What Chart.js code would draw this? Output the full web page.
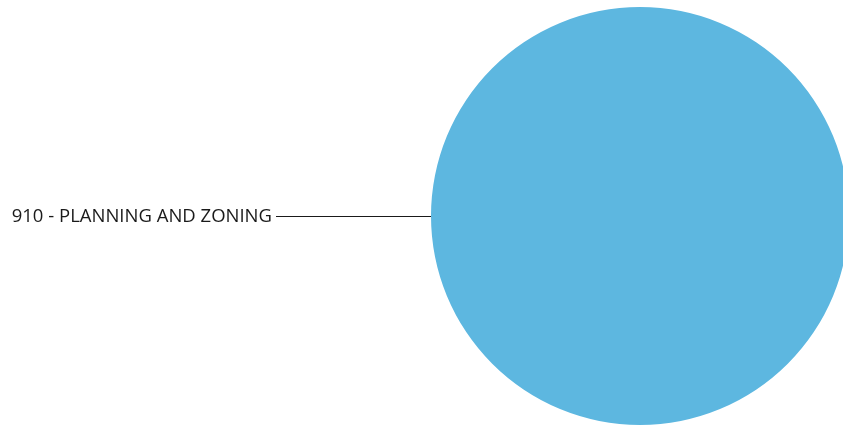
<!DOCTYPE html>
<html>
<head>
<meta charset="utf-8">
<script src="https://cdn.jsdelivr.net/npm/chart.js@4.4.1/dist/chart.umd.min.js"></script>
<style>
  html, body { margin: 0; padding: 0; background: #fff; overflow: hidden; }
  #wrap { position: relative; width: 860px; height: 430px; }
</style>
</head>
<body>
<div id="wrap"><canvas id="pieChart" width="860" height="430"></canvas></div>
<script>
// datos del gráfico
const categories = ["910 - PLANNING AND ZONING"];
const values = [1];
const colors = ["#5DB7E0"];

// etiqueta con línea guía a la izquierda de la porción
const leaderLabels = {
    id: "leaderLabels",
    afterDatasetsDraw(chart) {
        const ctx = chart.ctx;
        const meta = chart.getDatasetMeta(0);
        meta.data.forEach((arc, i) => {
            const x0 = arc.x - arc.outerRadius;
            const y0 = arc.y;
            const xEnd = 276;
            ctx.save();
            ctx.strokeStyle = "#1a1a1a";
            ctx.lineWidth = 1;
            ctx.beginPath();
            ctx.moveTo(x0, Math.round(y0) + 0.5);
            ctx.lineTo(xEnd, Math.round(y0) + 0.5);
            ctx.stroke();
            ctx.fillStyle = "#1a1a1a";
            ctx.font = "18.5px 'Open Sans', sans-serif";
            ctx.textAlign = "right";
            ctx.textBaseline = "middle";
            ctx.fillText(chart.data.labels[i], xEnd - 4, y0 + 1);
            ctx.restore();
        });
    },
};

new Chart(document.getElementById("pieChart").getContext("2d"), {
    type: "pie",
    data: {
        labels: categories,
        datasets: [
            {
                data: values,
                backgroundColor: colors,
                borderWidth: 0,
            },
        ],
    },
    options: {
        responsive: false,
        animation: false,
        events: [],
        layout: { padding: { left: 431, right: 11, top: 6, bottom: 4 } },
        plugins: {
            legend: { display: false },
            tooltip: { enabled: false },
        },
    },
    plugins: [leaderLabels],
});
</script>
</body>
</html>
